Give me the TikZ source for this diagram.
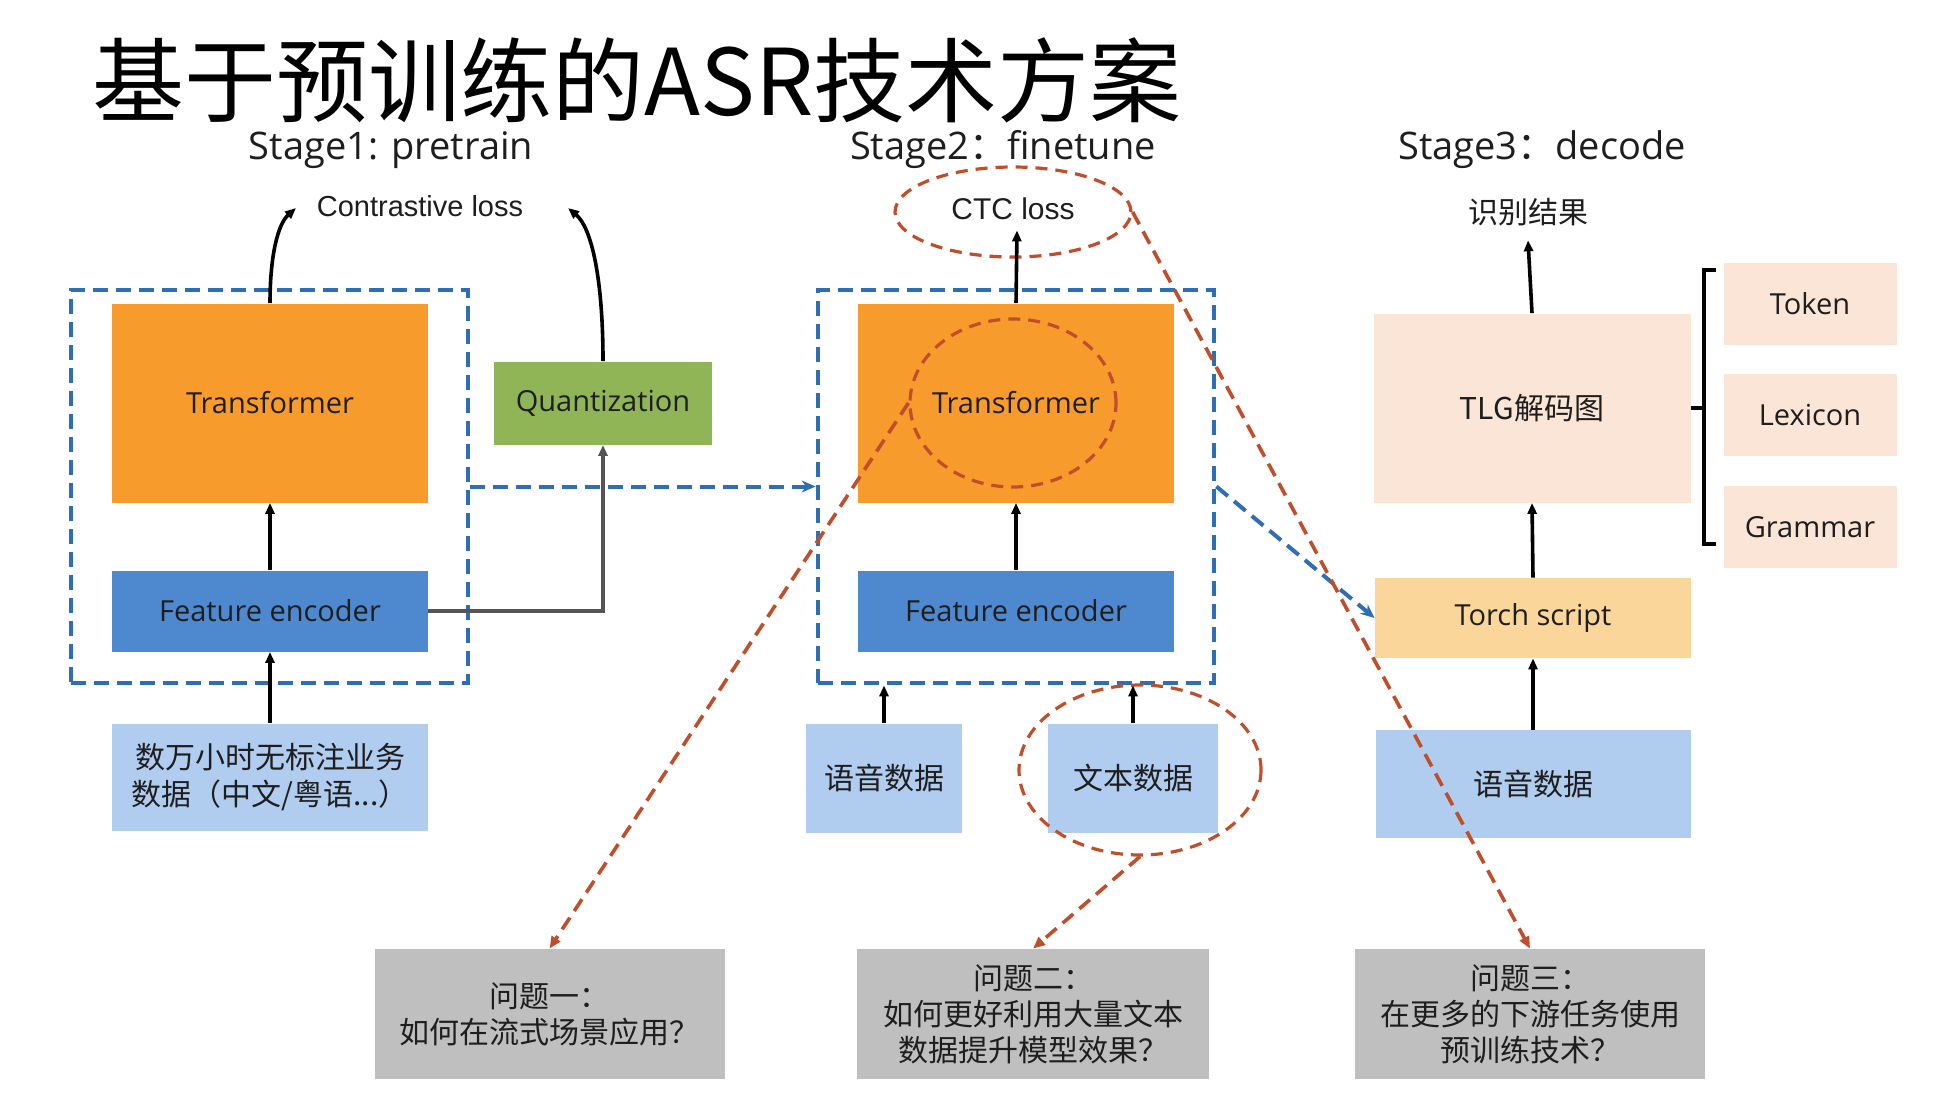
\documentclass[tikz,border=0pt]{standalone}
\usepackage{fontspec}
\setmainfont{Open Sans}
\newfontfamily\cjk{Noto Sans CJK SC}
\newfontfamily\arialf{Liberation Sans}
\usetikzlibrary{arrows.meta,shapes.geometric,calc}
\definecolor{orangeT}{RGB}{248,155,45}
\definecolor{blueF}{RGB}{78,136,206}
\definecolor{lightB}{RGB}{176,205,240}
\definecolor{greenQ}{RGB}{143,181,86}
\definecolor{peach}{RGB}{251,229,214}
\definecolor{torchc}{RGB}{250,214,155}
\definecolor{grayP}{RGB}{191,191,191}
\definecolor{bluec}{RGB}{46,110,180}
\definecolor{redc}{RGB}{192,78,42}
\definecolor{textcol}{RGB}{30,30,30}
\definecolor{grayarr}{RGB}{85,85,85}
\begin{document}
\begin{tikzpicture}[x=0.5pt,y=-0.5pt,
  sbox/.style={rectangle, inner sep=0pt, align=center, text=textcol},
  lbl/.style={font=\fontsize{14.5}{17}\selectfont},
  cjklbl/.style={font=\cjk\fontsize{15}{18.5}\selectfont},
  orangebox/.style={sbox, lbl, fill=orangeT, minimum width=158pt, minimum height=99.5pt},
  featbox/.style={sbox, lbl, fill=blueF, minimum width=158pt, minimum height=40.5pt},
  lightbox/.style={sbox, cjklbl, fill=lightB, minimum height=54pt},
  peachbox/.style={sbox, lbl, fill=peach, minimum width=86.5pt, minimum height=41pt},
  graybox/.style={sbox, font=\cjk\fontsize{15}{18}\selectfont, fill=grayP, minimum width=175pt, minimum height=65pt},
  dashbox/.style={rectangle, draw=bluec, line width=2.4pt, dash pattern=on 7.5pt off 4pt, inner sep=0pt},
  redell/.style={ellipse, draw=redc, line width=1.6pt, dash pattern=on 6pt off 4pt, inner sep=0pt},
  arr/.style={-{Triangle[length=5.5pt,width=4.5pt]}, line width=1.8pt, draw=black},
  bluearr/.style={-{Stealth[length=7pt,width=6pt]}, line width=2pt, draw=bluec, dash pattern=on 7.5pt off 4pt},
  redarr/.style={-{Triangle[length=6pt,width=5pt]}, line width=1.8pt, draw=redc, dash pattern=on 7pt off 4pt},
  stagelbl/.style={font=\fontsize{19}{22}\selectfont, text=textcol, inner sep=0pt}
]
\useasboundingbox (0,0) rectangle (1958,1099);
\fill[white] (0,0) rectangle (1958,1099);

% title and stage labels
\node[font=\cjk\fontsize{46}{50}\selectfont, inner sep=0pt, text=black] (title) at (637,80) {基于预训练的ASR技术方案};
\node[stagelbl] (st1) at (391,150) {Stage1: pretrain};
\node[stagelbl] (st2) at (1003,150) {Stage2{\cjk ：}finetune};
\node[stagelbl] (st3) at (1542,150) {Stage3{\cjk ：}decode};

% ---------- Stage 1 ----------
\node[dashbox, minimum width=198.5pt, minimum height=196.5pt] (B1) at (269.5,486.5) {};
\node[orangebox] (T1) at (270,403) {Transformer};
\node[featbox] (F1) at (270,611) {Feature encoder};
\node[lightbox, minimum width=158pt, minimum height=53.5pt] (D1) at (270,777) {数万小时无标注业务\\数据（中文/粤语...）};
\node[sbox, lbl, fill=greenQ, minimum width=109pt, minimum height=41.5pt] (Q) at (603,403) {Quantization};
\node[font=\arialf\fontsize{14.5}{17}\selectfont, inner sep=0pt, text=textcol] (CL) at (420,206) {Contrastive loss};
\coordinate (cl1) at (296,208);
\coordinate (cl2) at (568,208);

\draw[arr] (D1.north) -- (F1.south);
\draw[arr] (F1.north) -- (T1.south);
\draw[arr] (T1.north) .. controls (270,255) and (278,224) .. (cl1);
\draw[arr] (Q.north) .. controls (603,280) and (592,228) .. (cl2);
\draw[-{Triangle[length=5.5pt,width=4.5pt]}, line width=1.6pt, draw=grayarr] (F1.east) -| (Q.south);

% ---------- Stage 2 ----------
\node[dashbox, minimum width=198pt, minimum height=196.5pt] (B2) at (1016,486.5) {};
\node[orangebox] (T2) at (1016,403) {Transformer};
\node[featbox] (F2) at (1016,611) {Feature encoder};
\node[lightbox, minimum width=78pt, minimum height=54.5pt] (S2a) at (884,778) {语音数据};
\node[lightbox, minimum width=85pt, minimum height=54.5pt] (S2b) at (1133,778) {文本数据};
\node[font=\arialf\fontsize{15}{18}\selectfont, inner sep=0pt, text=textcol] (CTC) at (1013,209) {CTC loss};
\node[redell, minimum width=118pt, minimum height=45pt] (E1) at (1013,212) {};
\node[redell, minimum width=103pt, minimum height=84pt] (E2) at (1013,403) {};
\node[redell, minimum width=121pt, minimum height=85pt] (E3) at (1140,770) {};

\draw[arr] (F2.north) -- (T2.south);
\draw[arr] (T2.north) -- ($(CTC.south)+(4,10)$);
\draw[arr] (S2a.north) -- (S2a.north |- B2.south);
\draw[arr] (S2b.north) -- (S2b.north |- B2.south);

% ---------- Stage 3 ----------
\node[cjklbl, inner sep=0pt, text=textcol] (R) at (1528,212) {识别结果};
\node[sbox, cjklbl, fill=peach, minimum width=158.5pt, minimum height=94.5pt] (TLG) at (1532,408) {TLG解码图};
\node[sbox, lbl, fill=torchc, minimum width=158pt, minimum height=40pt] (TS) at (1533,618) {Torch script};
\node[lightbox, minimum width=157.5pt, minimum height=54pt] (S3) at (1533,784) {语音数据};
\node[peachbox] (TK) at (1810,304) {Token};
\node[peachbox] (LX) at (1810,415) {Lexicon};
\node[peachbox] (GR) at (1810,527) {Grammar};

\draw[arr] (S3.north) -- (TS.south);
\draw[arr] (TS.north) -- (TLG.south);
\draw[arr] (TLG.north) -- ($(R.south)+(0,14)$);
\draw[line width=1.6pt] (1716,270) -- (1704,270) -- (1704,544) -- (1716,544);
\draw[line width=1.6pt] (TLG.east) -- (TLG.east -| 1704,0);

% ---------- inter-stage ----------
\draw[bluearr] (B1.east) -- (B2.west);
\draw[bluearr] (B2.east) -- (TS.west);

% ---------- problems ----------
\node[graybox] (P1) at (549.5,1014) {问题一：\\如何在流式场景应用？};
\node[graybox, minimum width=176pt] (P2) at (1033,1014) {问题二：\\如何更好利用大量文本\\数据提升模型效果？};
\node[graybox] (P3) at (1530,1014) {问题三：\\在更多的下游任务使用\\预训练技术？};

\draw[redarr] (E2.west) -- (P1.north);
\draw[redarr] (E3.south) -- (P2.north);
\draw[redarr] (E1.east) -- (P3.north);
\end{tikzpicture}
\end{document}
